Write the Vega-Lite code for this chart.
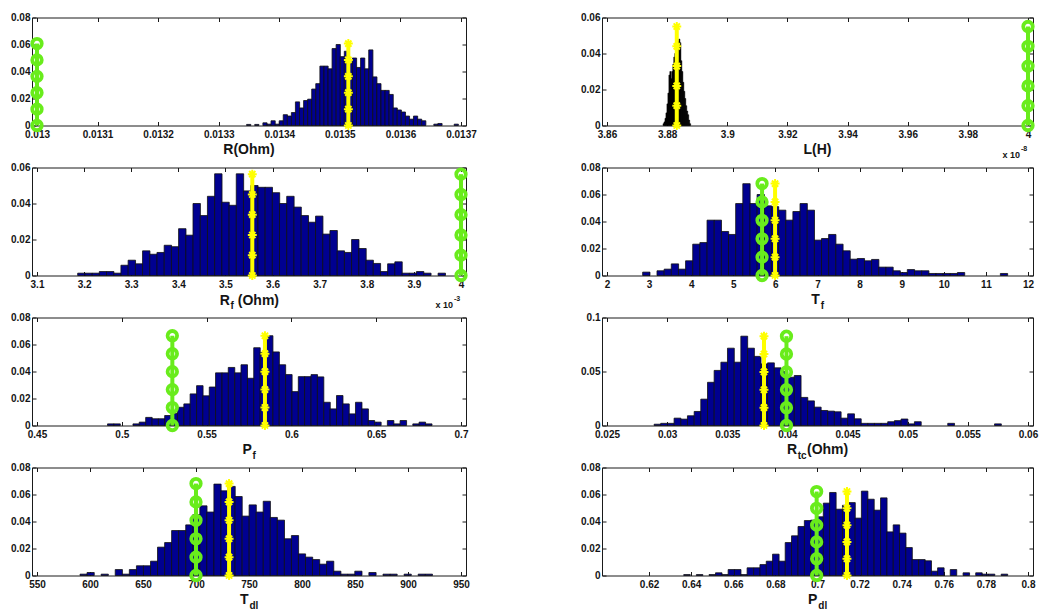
{
"$schema": "https://vega.github.io/schema/vega-lite/v6.json",
"autosize": {"type": "none"},
"padding": {"left": 32, "top": 17.5, "right": 1008, "bottom": 594.5},
"background": "white",
"columns": 2,
"spacing": {"row": 42, "column": 136},
"bounds": "flush",
"datasets": {
"R": [{"x":0.0133495,"y":0.0008},{"x":0.0133629,"y":0.0008},{"x":0.0133764,"y":0.002},{"x":0.0133831,"y":0.001},{"x":0.0133898,"y":0.0035},{"x":0.0133965,"y":0.001},{"x":0.0134033,"y":0.0035},{"x":0.01341,"y":0.008},{"x":0.0134167,"y":0.007},{"x":0.0134234,"y":0.0096},{"x":0.0134301,"y":0.0175},{"x":0.0134369,"y":0.013},{"x":0.0134436,"y":0.0185},{"x":0.0134503,"y":0.0195},{"x":0.013457,"y":0.027},{"x":0.0134637,"y":0.031},{"x":0.0134705,"y":0.044},{"x":0.0134772,"y":0.044},{"x":0.0134839,"y":0.042},{"x":0.0134906,"y":0.057},{"x":0.0134973,"y":0.06},{"x":0.0135041,"y":0.051},{"x":0.0135108,"y":0.055},{"x":0.0135175,"y":0.047},{"x":0.0135242,"y":0.05},{"x":0.0135309,"y":0.043},{"x":0.0135377,"y":0.05},{"x":0.0135444,"y":0.042},{"x":0.0135511,"y":0.056},{"x":0.0135578,"y":0.036},{"x":0.0135645,"y":0.031},{"x":0.0135713,"y":0.026},{"x":0.013578,"y":0.026},{"x":0.0135847,"y":0.023},{"x":0.0135914,"y":0.013},{"x":0.0135981,"y":0.0115},{"x":0.0136049,"y":0.01},{"x":0.0136116,"y":0.007},{"x":0.0136183,"y":0.0047},{"x":0.013625,"y":0.007},{"x":0.0136317,"y":0.0047},{"x":0.0136385,"y":0.0035},{"x":0.0136586,"y":0.001},{"x":0.0136653,"y":0.0015},{"x":0.0136922,"y":0.001}],
"Rm": [{"s":"g","x":0.013,"y":0},{"s":"g","x":0.013,"y":0.0121},{"s":"g","x":0.013,"y":0.0243},{"s":"g","x":0.013,"y":0.0364},{"s":"g","x":0.013,"y":0.0486},{"s":"g","x":0.013,"y":0.0607},{"s":"y","x":0.013514,"y":0},{"s":"y","x":0.013514,"y":0.0121},{"s":"y","x":0.013514,"y":0.0243},{"s":"y","x":0.013514,"y":0.0364},{"s":"y","x":0.013514,"y":0.0486},{"s":"y","x":0.013514,"y":0.0607}],
"L": [{"x":3.87884,"y":0.001},{"x":3.87916,"y":0.002},{"x":3.87949,"y":0.004},{"x":3.87981,"y":0.007},{"x":3.88014,"y":0.012},{"x":3.88046,"y":0.018},{"x":3.88079,"y":0.028},{"x":3.88111,"y":0.03},{"x":3.88144,"y":0.026},{"x":3.88176,"y":0.03},{"x":3.88209,"y":0.034},{"x":3.88241,"y":0.038},{"x":3.88274,"y":0.04},{"x":3.88306,"y":0.042},{"x":3.88338,"y":0.045},{"x":3.88371,"y":0.047},{"x":3.88403,"y":0.048},{"x":3.88436,"y":0.046},{"x":3.88468,"y":0.036},{"x":3.88501,"y":0.03},{"x":3.88533,"y":0.024},{"x":3.88566,"y":0.019},{"x":3.88598,"y":0.015},{"x":3.88631,"y":0.011},{"x":3.88663,"y":0.008},{"x":3.88696,"y":0.006},{"x":3.88728,"y":0.003},{"x":3.88761,"y":0.001}],
"Lm": [{"s":"g","x":4,"y":0},{"s":"g","x":4,"y":0.011},{"s":"g","x":4,"y":0.022},{"s":"g","x":4,"y":0.033},{"s":"g","x":4,"y":0.044},{"s":"g","x":4,"y":0.055},{"s":"y","x":3.8832,"y":0},{"s":"y","x":3.8832,"y":0.011},{"s":"y","x":3.8832,"y":0.022},{"s":"y","x":3.8832,"y":0.033},{"s":"y","x":3.8832,"y":0.044},{"s":"y","x":3.8832,"y":0.055}],
"Rf": [{"x":3.1942,"y":0.0013},{"x":3.2095,"y":0.0013},{"x":3.2248,"y":0.0013},{"x":3.2401,"y":0.0022},{"x":3.2554,"y":0.0022},{"x":3.2707,"y":0.0013},{"x":3.286,"y":0.0057},{"x":3.3013,"y":0.0085},{"x":3.3166,"y":0.0065},{"x":3.3319,"y":0.0137},{"x":3.3472,"y":0.0118},{"x":3.3625,"y":0.0128},{"x":3.3778,"y":0.0168},{"x":3.3931,"y":0.016},{"x":3.4084,"y":0.026},{"x":3.4237,"y":0.0224},{"x":3.439,"y":0.04},{"x":3.4543,"y":0.0333},{"x":3.4696,"y":0.044},{"x":3.4849,"y":0.0565},{"x":3.5002,"y":0.0407},{"x":3.5155,"y":0.039},{"x":3.5308,"y":0.0565},{"x":3.5461,"y":0.047},{"x":3.5614,"y":0.05},{"x":3.5767,"y":0.049},{"x":3.592,"y":0.049},{"x":3.6073,"y":0.046},{"x":3.6226,"y":0.04},{"x":3.6379,"y":0.044},{"x":3.6532,"y":0.038},{"x":3.6685,"y":0.0333},{"x":3.6838,"y":0.0296},{"x":3.6991,"y":0.033},{"x":3.7144,"y":0.023},{"x":3.7297,"y":0.025},{"x":3.745,"y":0.0137},{"x":3.7603,"y":0.0128},{"x":3.7756,"y":0.02},{"x":3.7909,"y":0.015},{"x":3.8062,"y":0.0085},{"x":3.8215,"y":0.0067},{"x":3.8368,"y":0.0022},{"x":3.8521,"y":0.0065},{"x":3.8674,"y":0.0076},{"x":3.8827,"y":0.0013},{"x":3.898,"y":0.0013},{"x":3.9133,"y":0.0022},{"x":3.9286,"y":0.0013},{"x":3.9592,"y":0.0013}],
"Rfm": [{"s":"g","x":4,"y":0},{"s":"g","x":4,"y":0.0113},{"s":"g","x":4,"y":0.0225},{"s":"g","x":4,"y":0.0338},{"s":"g","x":4,"y":0.045},{"s":"g","x":4,"y":0.0563},{"s":"y","x":3.557,"y":0},{"s":"y","x":3.557,"y":0.0113},{"s":"y","x":3.557,"y":0.0225},{"s":"y","x":3.557,"y":0.0338},{"s":"y","x":3.557,"y":0.045},{"s":"y","x":3.557,"y":0.0563}],
"Tf": [{"x":2.934,"y":0.0025},{"x":3.274,"y":0.0035},{"x":3.444,"y":0.0047},{"x":3.614,"y":0.0086},{"x":3.784,"y":0.0047},{"x":3.953,"y":0.0109},{"x":4.123,"y":0.0232},{"x":4.293,"y":0.0244},{"x":4.463,"y":0.041},{"x":4.633,"y":0.041},{"x":4.803,"y":0.0326},{"x":4.973,"y":0.0304},{"x":5.143,"y":0.0533},{"x":5.313,"y":0.068},{"x":5.483,"y":0.0533},{"x":5.652,"y":0.06},{"x":5.822,"y":0.0516},{"x":5.992,"y":0.051},{"x":6.162,"y":0.0484},{"x":6.332,"y":0.041},{"x":6.502,"y":0.0474},{"x":6.672,"y":0.0533},{"x":6.842,"y":0.0484},{"x":7.012,"y":0.0262},{"x":7.182,"y":0.0274},{"x":7.351,"y":0.0304},{"x":7.521,"y":0.0232},{"x":7.691,"y":0.0183},{"x":7.861,"y":0.0121},{"x":8.031,"y":0.0126},{"x":8.201,"y":0.0109},{"x":8.371,"y":0.0119},{"x":8.541,"y":0.0062},{"x":8.711,"y":0.0062},{"x":8.881,"y":0.0035},{"x":9.05,"y":0.0022},{"x":9.22,"y":0.0044},{"x":9.39,"y":0.0035},{"x":9.56,"y":0.0035},{"x":9.73,"y":0.0015},{"x":9.9,"y":0.0015},{"x":10.07,"y":0.0015},{"x":10.24,"y":0.0015},{"x":10.41,"y":0.0022},{"x":11.43,"y":0.0015}],
"Tfm": [{"s":"g","x":5.683,"y":0},{"s":"g","x":5.683,"y":0.0136},{"s":"g","x":5.683,"y":0.0272},{"s":"g","x":5.683,"y":0.0409},{"s":"g","x":5.683,"y":0.0545},{"s":"g","x":5.683,"y":0.0681},{"s":"y","x":5.992,"y":0},{"s":"y","x":5.992,"y":0.0136},{"s":"y","x":5.992,"y":0.0272},{"s":"y","x":5.992,"y":0.0409},{"s":"y","x":5.992,"y":0.0545},{"s":"y","x":5.992,"y":0.0681}],
"Pf": [{"x":0.4935,"y":0.0012},{"x":0.4972,"y":0.0012},{"x":0.5085,"y":0.0012},{"x":0.5122,"y":0.0025},{"x":0.516,"y":0.006},{"x":0.5197,"y":0.005},{"x":0.5235,"y":0.005},{"x":0.5272,"y":0.0074},{"x":0.531,"y":0.009},{"x":0.5347,"y":0.0135},{"x":0.5385,"y":0.016},{"x":0.5422,"y":0.0234},{"x":0.546,"y":0.0295},{"x":0.5497,"y":0.022},{"x":0.5535,"y":0.0285},{"x":0.5572,"y":0.039},{"x":0.561,"y":0.039},{"x":0.5647,"y":0.043},{"x":0.5685,"y":0.039},{"x":0.5722,"y":0.045},{"x":0.576,"y":0.035},{"x":0.5797,"y":0.0576},{"x":0.5835,"y":0.054},{"x":0.5872,"y":0.0665},{"x":0.591,"y":0.0545},{"x":0.5947,"y":0.045},{"x":0.5985,"y":0.0377},{"x":0.6022,"y":0.0251},{"x":0.606,"y":0.0362},{"x":0.6097,"y":0.0362},{"x":0.6135,"y":0.0377},{"x":0.6172,"y":0.036},{"x":0.621,"y":0.0172},{"x":0.6247,"y":0.0123},{"x":0.6285,"y":0.0222},{"x":0.6322,"y":0.016},{"x":0.636,"y":0.0086},{"x":0.6397,"y":0.0172},{"x":0.6435,"y":0.0123},{"x":0.6472,"y":0.0037},{"x":0.651,"y":0.0025},{"x":0.6585,"y":0.0037},{"x":0.6622,"y":0.0012},{"x":0.666,"y":0.0037},{"x":0.6735,"y":0.0012},{"x":0.6772,"y":0.0025},{"x":0.681,"y":0.0012}],
"Pfm": [{"s":"g","x":0.5298,"y":0},{"s":"g","x":0.5298,"y":0.0133},{"s":"g","x":0.5298,"y":0.0266},{"s":"g","x":0.5298,"y":0.0399},{"s":"g","x":0.5298,"y":0.0532},{"s":"g","x":0.5298,"y":0.0665},{"s":"y","x":0.5844,"y":0},{"s":"y","x":0.5844,"y":0.0133},{"s":"y","x":0.5844,"y":0.0266},{"s":"y","x":0.5844,"y":0.0399},{"s":"y","x":0.5844,"y":0.0532},{"s":"y","x":0.5844,"y":0.0665}],
"Rtc": [{"x":0.0292,"y":0.0012},{"x":0.02975,"y":0.002},{"x":0.03031,"y":0.002},{"x":0.03086,"y":0.0068},{"x":0.03142,"y":0.0059},{"x":0.03197,"y":0.009},{"x":0.03253,"y":0.013},{"x":0.03308,"y":0.0244},{"x":0.03364,"y":0.04},{"x":0.03419,"y":0.051},{"x":0.03475,"y":0.0586},{"x":0.0353,"y":0.0716},{"x":0.03586,"y":0.0586},{"x":0.03641,"y":0.0827},{"x":0.03697,"y":0.0716},{"x":0.03752,"y":0.064},{"x":0.03808,"y":0.057},{"x":0.03863,"y":0.058},{"x":0.03919,"y":0.0534},{"x":0.03974,"y":0.05},{"x":0.0403,"y":0.0447},{"x":0.04085,"y":0.0463},{"x":0.04141,"y":0.026},{"x":0.04196,"y":0.0228},{"x":0.04252,"y":0.017},{"x":0.04307,"y":0.0139},{"x":0.04363,"y":0.0133},{"x":0.04418,"y":0.0127},{"x":0.04474,"y":0.0068},{"x":0.04529,"y":0.0108},{"x":0.04585,"y":0.0062},{"x":0.0464,"y":0.002},{"x":0.04696,"y":0.002},{"x":0.04751,"y":0.002},{"x":0.04807,"y":0.002},{"x":0.04862,"y":0.0035},{"x":0.04918,"y":0.0045},{"x":0.04973,"y":0.006},{"x":0.05029,"y":0.0015},{"x":0.05084,"y":0.0035},{"x":0.05361,"y":0.002},{"x":0.0575,"y":0.0015}],
"Rtcm": [{"s":"g","x":0.03992,"y":0},{"s":"g","x":0.03992,"y":0.0165},{"s":"g","x":0.03992,"y":0.0331},{"s":"g","x":0.03992,"y":0.0496},{"s":"g","x":0.03992,"y":0.0662},{"s":"g","x":0.03992,"y":0.0827},{"s":"y","x":0.03805,"y":0},{"s":"y","x":0.03805,"y":0.0165},{"s":"y","x":0.03805,"y":0.0331},{"s":"y","x":0.03805,"y":0.0496},{"s":"y","x":0.03805,"y":0.0662},{"s":"y","x":0.03805,"y":0.0827}],
"Tdl": [{"x":594,"y":0.001},{"x":600.6,"y":0.0022},{"x":613.9,"y":0.001},{"x":627.2,"y":0.0044},{"x":633.9,"y":0.001},{"x":640.5,"y":0.0044},{"x":647.2,"y":0.0072},{"x":653.8,"y":0.0072},{"x":660.5,"y":0.0106},{"x":667.1,"y":0.021},{"x":673.8,"y":0.0244},{"x":680.4,"y":0.0333},{"x":687,"y":0.0333},{"x":693.7,"y":0.0375},{"x":700.3,"y":0.045},{"x":707,"y":0.0516},{"x":713.6,"y":0.047},{"x":720.3,"y":0.0677},{"x":726.9,"y":0.0627},{"x":733.6,"y":0.066},{"x":740.2,"y":0.0585},{"x":746.9,"y":0.044},{"x":753.5,"y":0.0523},{"x":760.2,"y":0.047},{"x":766.8,"y":0.055},{"x":773.4,"y":0.043},{"x":780.1,"y":0.041},{"x":786.7,"y":0.0272},{"x":793.4,"y":0.0296},{"x":800,"y":0.016},{"x":806.7,"y":0.0136},{"x":813.3,"y":0.0118},{"x":820,"y":0.0084},{"x":826.6,"y":0.0106},{"x":833.3,"y":0.0032},{"x":839.9,"y":0.001},{"x":846.5,"y":0.001},{"x":853.2,"y":0.0032},{"x":866.5,"y":0.0022},{"x":879.8,"y":0.001},{"x":886.4,"y":0.001},{"x":899.7,"y":0.001},{"x":913,"y":0.001},{"x":919.7,"y":0.001}],
"Tdlm": [{"s":"g","x":700,"y":0},{"s":"g","x":700,"y":0.0136},{"s":"g","x":700,"y":0.0272},{"s":"g","x":700,"y":0.0409},{"s":"g","x":700,"y":0.0545},{"s":"g","x":700,"y":0.0681},{"s":"y","x":731.2,"y":0},{"s":"y","x":731.2,"y":0.0136},{"s":"y","x":731.2,"y":0.0272},{"s":"y","x":731.2,"y":0.0409},{"s":"y","x":731.2,"y":0.0545},{"s":"y","x":731.2,"y":0.0681}],
"Pdl": [{"x":0.638,"y":0.0007},{"x":0.644,"y":0.0007},{"x":0.65,"y":0.0007},{"x":0.6531,"y":0.002},{"x":0.6561,"y":0.0007},{"x":0.6591,"y":0.0044},{"x":0.6621,"y":0.0044},{"x":0.6651,"y":0.0007},{"x":0.6681,"y":0.0057},{"x":0.6712,"y":0.0057},{"x":0.6742,"y":0.0081},{"x":0.6772,"y":0.0106},{"x":0.6802,"y":0.0158},{"x":0.6832,"y":0.0106},{"x":0.6862,"y":0.0244},{"x":0.6892,"y":0.0294},{"x":0.6923,"y":0.0363},{"x":0.6953,"y":0.0407},{"x":0.6983,"y":0.041},{"x":0.7013,"y":0.0435},{"x":0.7043,"y":0.0536},{"x":0.7073,"y":0.0615},{"x":0.7104,"y":0.0491},{"x":0.7134,"y":0.052},{"x":0.7164,"y":0.054},{"x":0.7194,"y":0.0425},{"x":0.7224,"y":0.0625},{"x":0.7254,"y":0.0565},{"x":0.7284,"y":0.0484},{"x":0.7315,"y":0.0575},{"x":0.7345,"y":0.0323},{"x":0.7375,"y":0.0375},{"x":0.7405,"y":0.0314},{"x":0.7435,"y":0.0207},{"x":0.7465,"y":0.0118},{"x":0.7496,"y":0.0118},{"x":0.7526,"y":0.0109},{"x":0.7556,"y":0.0032},{"x":0.7586,"y":0.0057},{"x":0.7646,"y":0.0044},{"x":0.7707,"y":0.002},{"x":0.7767,"y":0.002},{"x":0.7797,"y":0.001},{"x":0.7827,"y":0.001},{"x":0.7888,"y":0.001}],
"Pdlm": [{"s":"g","x":0.6996,"y":0},{"s":"g","x":0.6996,"y":0.0124},{"s":"g","x":0.6996,"y":0.0249},{"s":"g","x":0.6996,"y":0.0373},{"s":"g","x":0.6996,"y":0.0498},{"s":"g","x":0.6996,"y":0.0622},{"s":"y","x":0.714,"y":0},{"s":"y","x":0.714,"y":0.0124},{"s":"y","x":0.714,"y":0.0249},{"s":"y","x":0.714,"y":0.0373},{"s":"y","x":0.714,"y":0.0498},{"s":"y","x":0.714,"y":0.0622}]
},
"concat": [
{"width": 434, "height": 108, "layer": [
 {"data": {"name": "R"}, "mark": {"type": "bar", "width": 4.2, "fill": "#000090", "stroke": "#101010", "strokeWidth": 0.8},
  "encoding": {"x": {"field": "x", "type": "quantitative", "scale": {"domain": [0.013, 0.0137], "nice": false, "zero": false}, "axis": {"orient": "bottom", "values": [0.013,0.0131,0.0132,0.0133,0.0134,0.0135,0.0136,0.0137], "format": ".6~g", "title": null}},
   "y": {"field": "y", "type": "quantitative", "stack": null, "scale": {"domain": [0, 0.08], "nice": false}, "axis": {"orient": "left", "values": [0,0.02,0.04,0.06,0.08], "format": ".6~g", "title": null}}}},
 {"data": {"name": "Rm"}, "transform": [{"filter": "datum.s == 'g'"}],
  "encoding": {"x": {"field": "x", "type": "quantitative", "axis": {"orient": "top", "values": [0.013,0.0131,0.0132,0.0133,0.0134,0.0135,0.0136,0.0137], "title": null}}, "y": {"field": "y", "type": "quantitative", "axis": {"orient": "right", "values": [0,0.02,0.04,0.06,0.08], "title": null}}, "order": {"field": "y"}},
  "layer": [{"mark": {"type": "line", "color": "#69ec1c", "strokeWidth": 4}}, {"mark": {"type": "point", "shape": "circle", "filled": false, "color": "#69ec1c", "strokeWidth": 3.8, "size": 90, "opacity": 1}}]},
 {"data": {"name": "Rm"}, "transform": [{"filter": "datum.s == 'y'"}],
  "encoding": {"x": {"field": "x", "type": "quantitative", "axis": null}, "y": {"field": "y", "type": "quantitative", "axis": null}, "order": {"field": "y"}},
  "layer": [{"mark": {"type": "line", "color": "#ffff00", "strokeWidth": 4}}, {"mark": {"type": "point", "shape": "M-1,0L1,0M0,-1L0,1M-0.7,-0.7L0.7,0.7M-0.7,0.7L0.7,-0.7", "filled": false, "color": "#ffff00", "strokeWidth": 2, "size": 80, "opacity": 1}}]},
 {"data": {"values": [{}]}, "mark": {"type": "text", "text": "R(Ohm)", "align": "center", "baseline": "alphabetic", "dy": 28, "fontSize": 14}, "encoding": {"x": {"datum": 0.01335, "type": "quantitative", "axis": null}, "y": {"datum": 0, "type": "quantitative", "axis": null}}}
]},
{"width": 431, "height": 108, "layer": [
 {"data": {"name": "L"}, "mark": {"type": "bar", "width": 1.3, "fill": "#000000", "stroke": "#000000", "strokeWidth": 0.5},
  "encoding": {"x": {"field": "x", "type": "quantitative", "scale": {"domain": [3.86, 4], "nice": false, "zero": false}, "axis": {"orient": "bottom", "values": [3.86,3.88,3.9,3.92,3.94,3.96,3.98,4], "format": ".6~g", "title": null}},
   "y": {"field": "y", "type": "quantitative", "stack": null, "scale": {"domain": [0, 0.06], "nice": false}, "axis": {"orient": "left", "values": [0,0.02,0.04,0.06], "format": ".6~g", "title": null}}}},
 {"data": {"name": "Lm"}, "transform": [{"filter": "datum.s == 'g'"}],
  "encoding": {"x": {"field": "x", "type": "quantitative", "axis": {"orient": "top", "values": [3.86,3.88,3.9,3.92,3.94,3.96,3.98,4], "title": null}}, "y": {"field": "y", "type": "quantitative", "axis": {"orient": "right", "values": [0,0.02,0.04,0.06], "title": null}}, "order": {"field": "y"}},
  "layer": [{"mark": {"type": "line", "color": "#69ec1c", "strokeWidth": 4}}, {"mark": {"type": "point", "shape": "circle", "filled": false, "color": "#69ec1c", "strokeWidth": 3.8, "size": 90, "opacity": 1}}]},
 {"data": {"name": "Lm"}, "transform": [{"filter": "datum.s == 'y'"}],
  "encoding": {"x": {"field": "x", "type": "quantitative", "axis": null}, "y": {"field": "y", "type": "quantitative", "axis": null}, "order": {"field": "y"}},
  "layer": [{"mark": {"type": "line", "color": "#ffff00", "strokeWidth": 4}}, {"mark": {"type": "point", "shape": "M-1,0L1,0M0,-1L0,1M-0.7,-0.7L0.7,0.7M-0.7,0.7L0.7,-0.7", "filled": false, "color": "#ffff00", "strokeWidth": 2, "size": 80, "opacity": 1}}]},
 {"data": {"values": [{}]}, "mark": {"type": "text", "text": "L(H)", "align": "center", "baseline": "alphabetic", "dy": 28, "fontSize": 14}, "encoding": {"x": {"datum": 3.93, "type": "quantitative", "axis": null}, "y": {"datum": 0, "type": "quantitative", "axis": null}}},
 {"data": {"values": [{}]}, "mark": {"type": "text", "text": "x 10", "align": "right", "baseline": "alphabetic", "dx": -8, "dy": 32, "fontSize": 9}, "encoding": {"x": {"datum": 4, "type": "quantitative", "axis": null}, "y": {"datum": 0, "type": "quantitative", "axis": null}}},
 {"data": {"values": [{}]}, "mark": {"type": "text", "text": "-8", "align": "left", "baseline": "alphabetic", "dx": -7, "dy": 25, "fontSize": 7}, "encoding": {"x": {"datum": 4, "type": "quantitative", "axis": null}, "y": {"datum": 0, "type": "quantitative", "axis": null}}}
]},
{"width": 434, "height": 108, "layer": [
 {"data": {"name": "Rf"}, "mark": {"type": "bar", "width": 7.4, "fill": "#000090", "stroke": "#101010", "strokeWidth": 0.8},
  "encoding": {"x": {"field": "x", "type": "quantitative", "scale": {"domain": [3.1, 4], "nice": false, "zero": false}, "axis": {"orient": "bottom", "values": [3.1,3.2,3.3,3.4,3.5,3.6,3.7,3.8,3.9,4], "format": ".6~g", "title": null}},
   "y": {"field": "y", "type": "quantitative", "stack": null, "scale": {"domain": [0, 0.06], "nice": false}, "axis": {"orient": "left", "values": [0,0.02,0.04,0.06], "format": ".6~g", "title": null}}}},
 {"data": {"name": "Rfm"}, "transform": [{"filter": "datum.s == 'g'"}],
  "encoding": {"x": {"field": "x", "type": "quantitative", "axis": {"orient": "top", "values": [3.1,3.2,3.3,3.4,3.5,3.6,3.7,3.8,3.9,4], "title": null}}, "y": {"field": "y", "type": "quantitative", "axis": {"orient": "right", "values": [0,0.02,0.04,0.06], "title": null}}, "order": {"field": "y"}},
  "layer": [{"mark": {"type": "line", "color": "#69ec1c", "strokeWidth": 4}}, {"mark": {"type": "point", "shape": "circle", "filled": false, "color": "#69ec1c", "strokeWidth": 3.8, "size": 90, "opacity": 1}}]},
 {"data": {"name": "Rfm"}, "transform": [{"filter": "datum.s == 'y'"}],
  "encoding": {"x": {"field": "x", "type": "quantitative", "axis": null}, "y": {"field": "y", "type": "quantitative", "axis": null}, "order": {"field": "y"}},
  "layer": [{"mark": {"type": "line", "color": "#ffff00", "strokeWidth": 4}}, {"mark": {"type": "point", "shape": "M-1,0L1,0M0,-1L0,1M-0.7,-0.7L0.7,0.7M-0.7,0.7L0.7,-0.7", "filled": false, "color": "#ffff00", "strokeWidth": 2, "size": 80, "opacity": 1}}]},
 {"data": {"values": [{}]}, "mark": {"type": "text", "text": "R", "align": "left", "baseline": "alphabetic", "dx": -29.3, "dy": 29, "fontSize": 14}, "encoding": {"x": {"datum": 3.55, "type": "quantitative", "axis": null}, "y": {"datum": 0, "type": "quantitative", "axis": null}}},
 {"data": {"values": [{}]}, "mark": {"type": "text", "text": "f", "align": "left", "baseline": "alphabetic", "dx": -18.6, "dy": 33, "fontSize": 10}, "encoding": {"x": {"datum": 3.55, "type": "quantitative", "axis": null}, "y": {"datum": 0, "type": "quantitative", "axis": null}}},
 {"data": {"values": [{}]}, "mark": {"type": "text", "text": "(Ohm)", "align": "left", "baseline": "alphabetic", "dx": -11.2, "dy": 29, "fontSize": 14}, "encoding": {"x": {"datum": 3.55, "type": "quantitative", "axis": null}, "y": {"datum": 0, "type": "quantitative", "axis": null}}},
 {"data": {"values": [{}]}, "mark": {"type": "text", "text": "x 10", "align": "right", "baseline": "alphabetic", "dx": -8, "dy": 32, "fontSize": 9}, "encoding": {"x": {"datum": 4, "type": "quantitative", "axis": null}, "y": {"datum": 0, "type": "quantitative", "axis": null}}},
 {"data": {"values": [{}]}, "mark": {"type": "text", "text": "-3", "align": "left", "baseline": "alphabetic", "dx": -7, "dy": 25, "fontSize": 7}, "encoding": {"x": {"datum": 4, "type": "quantitative", "axis": null}, "y": {"datum": 0, "type": "quantitative", "axis": null}}}
]},
{"width": 431, "height": 108, "layer": [
 {"data": {"name": "Tf"}, "mark": {"type": "bar", "width": 7.3, "fill": "#000090", "stroke": "#101010", "strokeWidth": 0.8},
  "encoding": {"x": {"field": "x", "type": "quantitative", "scale": {"domain": [2, 12], "nice": false, "zero": false}, "axis": {"orient": "bottom", "values": [2,3,4,5,6,7,8,9,10,11,12], "format": ".6~g", "title": null}},
   "y": {"field": "y", "type": "quantitative", "stack": null, "scale": {"domain": [0, 0.08], "nice": false}, "axis": {"orient": "left", "values": [0,0.02,0.04,0.06,0.08], "format": ".6~g", "title": null}}}},
 {"data": {"name": "Tfm"}, "transform": [{"filter": "datum.s == 'g'"}],
  "encoding": {"x": {"field": "x", "type": "quantitative", "axis": {"orient": "top", "values": [2,3,4,5,6,7,8,9,10,11,12], "title": null}}, "y": {"field": "y", "type": "quantitative", "axis": {"orient": "right", "values": [0,0.02,0.04,0.06,0.08], "title": null}}, "order": {"field": "y"}},
  "layer": [{"mark": {"type": "line", "color": "#69ec1c", "strokeWidth": 4}}, {"mark": {"type": "point", "shape": "circle", "filled": false, "color": "#69ec1c", "strokeWidth": 3.8, "size": 90, "opacity": 1}}]},
 {"data": {"name": "Tfm"}, "transform": [{"filter": "datum.s == 'y'"}],
  "encoding": {"x": {"field": "x", "type": "quantitative", "axis": null}, "y": {"field": "y", "type": "quantitative", "axis": null}, "order": {"field": "y"}},
  "layer": [{"mark": {"type": "line", "color": "#ffff00", "strokeWidth": 4}}, {"mark": {"type": "point", "shape": "M-1,0L1,0M0,-1L0,1M-0.7,-0.7L0.7,0.7M-0.7,0.7L0.7,-0.7", "filled": false, "color": "#ffff00", "strokeWidth": 2, "size": 80, "opacity": 1}}]},
 {"data": {"values": [{}]}, "mark": {"type": "text", "text": "T", "align": "left", "baseline": "alphabetic", "dx": -6.2, "dy": 28, "fontSize": 14}, "encoding": {"x": {"datum": 7, "type": "quantitative", "axis": null}, "y": {"datum": 0, "type": "quantitative", "axis": null}}},
 {"data": {"values": [{}]}, "mark": {"type": "text", "text": "f", "align": "left", "baseline": "alphabetic", "dx": 3.2, "dy": 33, "fontSize": 10}, "encoding": {"x": {"datum": 7, "type": "quantitative", "axis": null}, "y": {"datum": 0, "type": "quantitative", "axis": null}}}
]},
{"width": 434, "height": 108, "layer": [
 {"data": {"name": "Pf"}, "mark": {"type": "bar", "width": 6.5, "fill": "#000090", "stroke": "#101010", "strokeWidth": 0.8},
  "encoding": {"x": {"field": "x", "type": "quantitative", "scale": {"domain": [0.45, 0.7], "nice": false, "zero": false}, "axis": {"orient": "bottom", "values": [0.45,0.5,0.55,0.6,0.65,0.7], "format": ".6~g", "title": null}},
   "y": {"field": "y", "type": "quantitative", "stack": null, "scale": {"domain": [0, 0.08], "nice": false}, "axis": {"orient": "left", "values": [0,0.02,0.04,0.06,0.08], "format": ".6~g", "title": null}}}},
 {"data": {"name": "Pfm"}, "transform": [{"filter": "datum.s == 'g'"}],
  "encoding": {"x": {"field": "x", "type": "quantitative", "axis": {"orient": "top", "values": [0.45,0.5,0.55,0.6,0.65,0.7], "title": null}}, "y": {"field": "y", "type": "quantitative", "axis": {"orient": "right", "values": [0,0.02,0.04,0.06,0.08], "title": null}}, "order": {"field": "y"}},
  "layer": [{"mark": {"type": "line", "color": "#69ec1c", "strokeWidth": 4}}, {"mark": {"type": "point", "shape": "circle", "filled": false, "color": "#69ec1c", "strokeWidth": 3.8, "size": 90, "opacity": 1}}]},
 {"data": {"name": "Pfm"}, "transform": [{"filter": "datum.s == 'y'"}],
  "encoding": {"x": {"field": "x", "type": "quantitative", "axis": null}, "y": {"field": "y", "type": "quantitative", "axis": null}, "order": {"field": "y"}},
  "layer": [{"mark": {"type": "line", "color": "#ffff00", "strokeWidth": 4}}, {"mark": {"type": "point", "shape": "M-1,0L1,0M0,-1L0,1M-0.7,-0.7L0.7,0.7M-0.7,0.7L0.7,-0.7", "filled": false, "color": "#ffff00", "strokeWidth": 2, "size": 80, "opacity": 1}}]},
 {"data": {"values": [{}]}, "mark": {"type": "text", "text": "P", "align": "left", "baseline": "alphabetic", "dx": -6.6, "dy": 28, "fontSize": 14}, "encoding": {"x": {"datum": 0.575, "type": "quantitative", "axis": null}, "y": {"datum": 0, "type": "quantitative", "axis": null}}},
 {"data": {"values": [{}]}, "mark": {"type": "text", "text": "f", "align": "left", "baseline": "alphabetic", "dx": 3.5, "dy": 33, "fontSize": 10}, "encoding": {"x": {"datum": 0.575, "type": "quantitative", "axis": null}, "y": {"datum": 0, "type": "quantitative", "axis": null}}}
]},
{"width": 431, "height": 108, "layer": [
 {"data": {"name": "Rtc"}, "mark": {"type": "bar", "width": 6.8, "fill": "#000090", "stroke": "#101010", "strokeWidth": 0.8},
  "encoding": {"x": {"field": "x", "type": "quantitative", "scale": {"domain": [0.025, 0.06], "nice": false, "zero": false}, "axis": {"orient": "bottom", "values": [0.025,0.03,0.035,0.04,0.045,0.05,0.055,0.06], "format": ".6~g", "title": null}},
   "y": {"field": "y", "type": "quantitative", "stack": null, "scale": {"domain": [0, 0.1], "nice": false}, "axis": {"orient": "left", "values": [0,0.05,0.1], "format": ".6~g", "title": null}}}},
 {"data": {"name": "Rtcm"}, "transform": [{"filter": "datum.s == 'g'"}],
  "encoding": {"x": {"field": "x", "type": "quantitative", "axis": {"orient": "top", "values": [0.025,0.03,0.035,0.04,0.045,0.05,0.055,0.06], "title": null}}, "y": {"field": "y", "type": "quantitative", "axis": {"orient": "right", "values": [0,0.05,0.1], "title": null}}, "order": {"field": "y"}},
  "layer": [{"mark": {"type": "line", "color": "#69ec1c", "strokeWidth": 4}}, {"mark": {"type": "point", "shape": "circle", "filled": false, "color": "#69ec1c", "strokeWidth": 3.8, "size": 90, "opacity": 1}}]},
 {"data": {"name": "Rtcm"}, "transform": [{"filter": "datum.s == 'y'"}],
  "encoding": {"x": {"field": "x", "type": "quantitative", "axis": null}, "y": {"field": "y", "type": "quantitative", "axis": null}, "order": {"field": "y"}},
  "layer": [{"mark": {"type": "line", "color": "#ffff00", "strokeWidth": 4}}, {"mark": {"type": "point", "shape": "M-1,0L1,0M0,-1L0,1M-0.7,-0.7L0.7,0.7M-0.7,0.7L0.7,-0.7", "filled": false, "color": "#ffff00", "strokeWidth": 2, "size": 80, "opacity": 1}}]},
 {"data": {"values": [{}]}, "mark": {"type": "text", "text": "R", "align": "left", "baseline": "alphabetic", "dx": -30.5, "dy": 28, "fontSize": 14}, "encoding": {"x": {"datum": 0.0425, "type": "quantitative", "axis": null}, "y": {"datum": 0, "type": "quantitative", "axis": null}}},
 {"data": {"values": [{}]}, "mark": {"type": "text", "text": "tc", "align": "left", "baseline": "alphabetic", "dx": -19.8, "dy": 33, "fontSize": 10}, "encoding": {"x": {"datum": 0.0425, "type": "quantitative", "axis": null}, "y": {"datum": 0, "type": "quantitative", "axis": null}}},
 {"data": {"values": [{}]}, "mark": {"type": "text", "text": "(Ohm)", "align": "left", "baseline": "alphabetic", "dx": -10.5, "dy": 28, "fontSize": 14}, "encoding": {"x": {"datum": 0.0425, "type": "quantitative", "axis": null}, "y": {"datum": 0, "type": "quantitative", "axis": null}}}
]},
{"width": 434, "height": 108, "layer": [
 {"data": {"name": "Tdl"}, "mark": {"type": "bar", "width": 7.2, "fill": "#000090", "stroke": "#101010", "strokeWidth": 0.8},
  "encoding": {"x": {"field": "x", "type": "quantitative", "scale": {"domain": [550, 950], "nice": false, "zero": false}, "axis": {"orient": "bottom", "values": [550,600,650,700,750,800,850,900,950], "format": ".6~g", "title": null}},
   "y": {"field": "y", "type": "quantitative", "stack": null, "scale": {"domain": [0, 0.08], "nice": false}, "axis": {"orient": "left", "values": [0,0.02,0.04,0.06,0.08], "format": ".6~g", "title": null}}}},
 {"data": {"name": "Tdlm"}, "transform": [{"filter": "datum.s == 'g'"}],
  "encoding": {"x": {"field": "x", "type": "quantitative", "axis": {"orient": "top", "values": [550,600,650,700,750,800,850,900,950], "title": null}}, "y": {"field": "y", "type": "quantitative", "axis": {"orient": "right", "values": [0,0.02,0.04,0.06,0.08], "title": null}}, "order": {"field": "y"}},
  "layer": [{"mark": {"type": "line", "color": "#69ec1c", "strokeWidth": 4}}, {"mark": {"type": "point", "shape": "circle", "filled": false, "color": "#69ec1c", "strokeWidth": 3.8, "size": 90, "opacity": 1}}]},
 {"data": {"name": "Tdlm"}, "transform": [{"filter": "datum.s == 'y'"}],
  "encoding": {"x": {"field": "x", "type": "quantitative", "axis": null}, "y": {"field": "y", "type": "quantitative", "axis": null}, "order": {"field": "y"}},
  "layer": [{"mark": {"type": "line", "color": "#ffff00", "strokeWidth": 4}}, {"mark": {"type": "point", "shape": "M-1,0L1,0M0,-1L0,1M-0.7,-0.7L0.7,0.7M-0.7,0.7L0.7,-0.7", "filled": false, "color": "#ffff00", "strokeWidth": 2, "size": 80, "opacity": 1}}]},
 {"data": {"values": [{}]}, "mark": {"type": "text", "text": "T", "align": "left", "baseline": "alphabetic", "dx": -9, "dy": 28, "fontSize": 14}, "encoding": {"x": {"datum": 750, "type": "quantitative", "axis": null}, "y": {"datum": 0, "type": "quantitative", "axis": null}}},
 {"data": {"values": [{}]}, "mark": {"type": "text", "text": "dl", "align": "left", "baseline": "alphabetic", "dx": 0.4, "dy": 33, "fontSize": 10}, "encoding": {"x": {"datum": 750, "type": "quantitative", "axis": null}, "y": {"datum": 0, "type": "quantitative", "axis": null}}}
]},
{"width": 431, "height": 108, "layer": [
 {"data": {"name": "Pdl"}, "mark": {"type": "bar", "width": 6.5, "fill": "#000090", "stroke": "#101010", "strokeWidth": 0.8},
  "encoding": {"x": {"field": "x", "type": "quantitative", "scale": {"domain": [0.6, 0.8], "nice": false, "zero": false}, "axis": {"orient": "bottom", "values": [0.62,0.64,0.66,0.68,0.7,0.72,0.74,0.76,0.78,0.8], "format": ".6~g", "title": null}},
   "y": {"field": "y", "type": "quantitative", "stack": null, "scale": {"domain": [0, 0.08], "nice": false}, "axis": {"orient": "left", "values": [0,0.02,0.04,0.06,0.08], "format": ".6~g", "title": null}}}},
 {"data": {"name": "Pdlm"}, "transform": [{"filter": "datum.s == 'g'"}],
  "encoding": {"x": {"field": "x", "type": "quantitative", "axis": {"orient": "top", "values": [0.62,0.64,0.66,0.68,0.7,0.72,0.74,0.76,0.78,0.8], "title": null}}, "y": {"field": "y", "type": "quantitative", "axis": {"orient": "right", "values": [0,0.02,0.04,0.06,0.08], "title": null}}, "order": {"field": "y"}},
  "layer": [{"mark": {"type": "line", "color": "#69ec1c", "strokeWidth": 4}}, {"mark": {"type": "point", "shape": "circle", "filled": false, "color": "#69ec1c", "strokeWidth": 3.8, "size": 90, "opacity": 1}}]},
 {"data": {"name": "Pdlm"}, "transform": [{"filter": "datum.s == 'y'"}],
  "encoding": {"x": {"field": "x", "type": "quantitative", "axis": null}, "y": {"field": "y", "type": "quantitative", "axis": null}, "order": {"field": "y"}},
  "layer": [{"mark": {"type": "line", "color": "#ffff00", "strokeWidth": 4}}, {"mark": {"type": "point", "shape": "M-1,0L1,0M0,-1L0,1M-0.7,-0.7L0.7,0.7M-0.7,0.7L0.7,-0.7", "filled": false, "color": "#ffff00", "strokeWidth": 2, "size": 80, "opacity": 1}}]},
 {"data": {"values": [{}]}, "mark": {"type": "text", "text": "P", "align": "left", "baseline": "alphabetic", "dx": -9.4, "dy": 28, "fontSize": 14}, "encoding": {"x": {"datum": 0.7, "type": "quantitative", "axis": null}, "y": {"datum": 0, "type": "quantitative", "axis": null}}},
 {"data": {"values": [{}]}, "mark": {"type": "text", "text": "dl", "align": "left", "baseline": "alphabetic", "dx": 0.8, "dy": 33, "fontSize": 10}, "encoding": {"x": {"datum": 0.7, "type": "quantitative", "axis": null}, "y": {"datum": 0, "type": "quantitative", "axis": null}}}
]}
],
"config": {
 "view": {"stroke": "#1a1a1a", "strokeWidth": 1},
 "axis": {"domain": false, "grid": false, "ticks": true, "tickSize": -4, "tickColor": "#1a1a1a", "tickWidth": 1, "labelFont": "Liberation Sans", "labelFontSize": 10, "labelFontWeight": "bold", "labelColor": "#141414", "labelFlush": false, "labelOverlap": false},
 "axisBottom": {"labelPadding": 8},
 "axisLeft": {"labelPadding": 6},
 "axisTop": {"labels": false},
 "axisRight": {"labels": false},
 "text": {"font": "Liberation Sans", "fontWeight": "bold", "color": "#141414"}
}
}
